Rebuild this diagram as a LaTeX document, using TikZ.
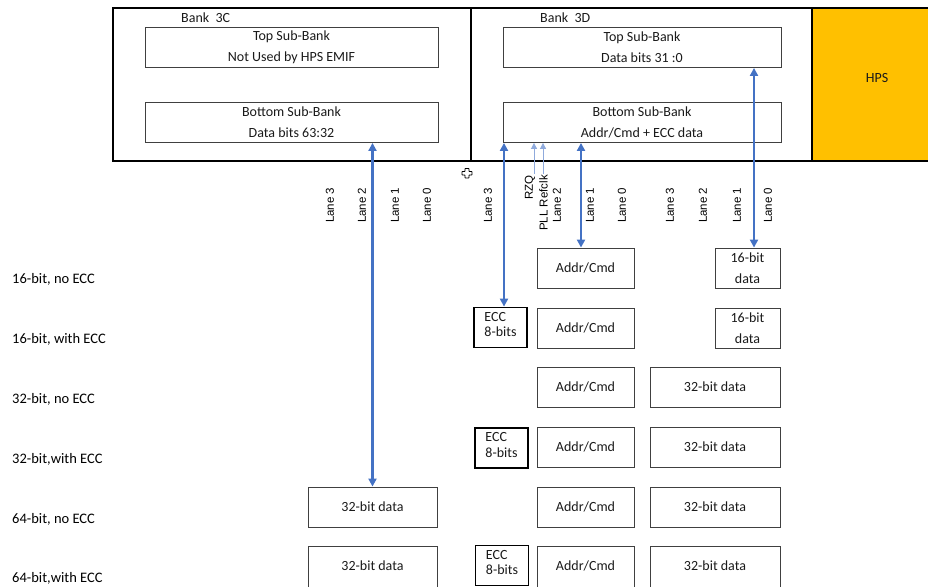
\documentclass[tikz,border=0pt]{standalone}
\usepackage{fontspec}
\setmainfont{Carlito}
\newfontfamily\lanefont{Liberation Sans}
\usetikzlibrary{arrows.meta}
\definecolor{linkblue}{HTML}{4472C4}
\definecolor{thinblue}{HTML}{8FAADC}
\definecolor{hpsgold}{HTML}{FFC000}
\definecolor{boxline}{HTML}{404040}
\definecolor{txt}{HTML}{1A1A1A}
\tikzset{
  bank/.style={draw=black, line width=1.6pt, inner sep=0pt},
  cell/.style={draw=boxline, line width=0.9pt, inner sep=0pt, align=center,
    text=txt, font=\fontsize{14}{21}\selectfont},
  eccbox/.style={draw=black, line width=1.8pt, inner sep=0pt,
    minimum width=53pt, minimum height=40pt},
  ecctext/.style={align=left, inner sep=0pt, text=txt,
    font=\fontsize{14}{15.5}\selectfont},
  celltext/.style={inner sep=0pt, text=txt, font=\fontsize{14}{16}\selectfont},
  addr/.style={cell, minimum width=97pt, minimum height=40pt},
  wide/.style={cell, minimum width=130pt, minimum height=40pt},
  narrow/.style={cell, minimum width=65pt, minimum height=40pt},
  rowlabel/.style={anchor=west, inner sep=0pt, text=black,
    font=\fontsize{14.5}{16}\selectfont},
  lane/.style={rotate=90, anchor=west, inner sep=0pt, text=black,
    font=\lanefont\fontsize{11.5}{13}\selectfont},
  pinlabel/.style={rotate=90, anchor=east, inner sep=0pt, text=black,
    font=\lanefont\fontsize{11.5}{13}\selectfont},
  banklabel/.style={anchor=west, inner sep=0pt, text=txt,
    font=\fontsize{14}{16}\selectfont},
  link/.style={draw=linkblue, line width=2.4pt,
    {Triangle[length=8pt,width=8pt]}-{Triangle[length=8pt,width=8pt]}},
  pin/.style={draw=thinblue, line width=1pt, -{Triangle[length=6pt,width=6pt]}},
}
\begin{document}
\begin{tikzpicture}[x=1pt, y=-1pt]
\useasboundingbox (0,0) rectangle (928,586);
\clip (0,0) rectangle (928,586);

% I/O banks and the HPS block
\node[bank, minimum width=358pt, minimum height=153pt] (bank3C) at (292,84.5) {};
\node[bank, minimum width=341pt, minimum height=153pt] (bank3D) at (641.5,84.5) {};
\fill[hpsgold] (812.8,8) rectangle (940,161);
\draw[black, line width=1.6pt] (812,8) -- (940,8) (812,161) -- (940,161);
\node[celltext] (hps) at (877,78) {HPS};

\node[banklabel] (lbl3C) at (181,18) {Bank~~3C};
\node[banklabel] (lbl3D) at (540,18) {Bank~~3D};

% sub-banks
\node[cell, minimum width=293pt, minimum height=40pt] (topC) at (291.5,47.5)
  {Top Sub-Bank\\Not Used by HPS EMIF};
\node[cell, minimum width=293pt, minimum height=40pt] (botC) at (291.5,122.5)
  {Bottom Sub-Bank\\Data bits 63:32};
\node[cell, minimum width=278pt, minimum height=40pt] (topD) at (642,47.5)
  {Top Sub-Bank\\Data bits 31 :0};
\node[cell, minimum width=278pt, minimum height=40pt] (botD) at (642,122.5)
  {Bottom Sub-Bank\\Addr/Cmd + ECC data};

% lane labels
\foreach \x/\t [count=\i] in {330/Lane 3, 362/Lane 2, 395/Lane 1, 427/Lane 0,
    488/Lane 3, 557/Lane 2, 590/Lane 1, 622/Lane 0,
    670/Lane 3, 703/Lane 2, 737/Lane 1, 768/Lane 0}
  \node[lane] (lane\i) at (\x,223) {\t};
\node[pinlabel] (rzq) at (530,175) {RZQ};
\node[pinlabel] (pll) at (543.5,175) {PLL Refclk};

% configuration rows
\node[rowlabel] (cfg1) at (12,279.5) {16-bit, no ECC};
\node[rowlabel] (cfg2) at (12,339.5) {16-bit, with ECC};
\node[rowlabel] (cfg3) at (12,399) {32-bit, no ECC};
\node[rowlabel] (cfg4) at (12,459) {32-bit,with ECC};
\node[rowlabel] (cfg5) at (12,519) {64-bit, no ECC};
\node[rowlabel] (cfg6) at (12,578.5) {64-bit,with ECC};

% row 1
\node[addr] (ac1) at (585.5,268) {Addr/Cmd};
\node[narrow] (d16a) at (747.5,268) {16-bit\\data};
% row 2
\node[eccbox] (ecc2) at (500.5,327.5) {};
\node[ecctext] (ecc2t) at ([yshift=3pt]ecc2.center) {ECC\\8-bits};
\node[addr] (ac2) at (585.5,328) {Addr/Cmd};
\node[narrow] (d16b) at (747.5,328) {16-bit\\data};
% row 3
\node[addr] (ac3) at (585.5,387) {Addr/Cmd};
\node[wide] (d32c) at (715,387) {32-bit data};
% row 4
\node[eccbox] (ecc4) at (501.5,448) {};
\node[ecctext] (ecc4t) at ([yshift=3pt]ecc4.center) {ECC\\8-bits};
\node[addr] (ac4) at (585.5,447) {Addr/Cmd};
\node[wide] (d32d) at (715,447) {32-bit data};
% row 5
\node[cell, minimum width=129pt, minimum height=40pt] (hi5) at (372.5,507) {32-bit data};
\node[addr] (ac5) at (585.5,507) {Addr/Cmd};
\node[wide] (d32e) at (715,507) {32-bit data};
% row 6 (runs past the lower edge)
\node[cell, minimum width=129pt, minimum height=44pt] (hi6) at (372.5,568) {};
\node[celltext] (hi6t) at (372.5,566) {32-bit data};
\node[eccbox] (ecc6) at (502,565.5) {};
\node[ecctext] (ecc6t) at ([yshift=3pt]ecc6.center) {ECC\\8-bits};
\node[cell, minimum width=97pt, minimum height=44pt] (ac6) at (585.5,568) {};
\node[celltext] (ac6t) at (585.5,566) {Addr/Cmd};
\node[cell, minimum width=130pt, minimum height=44pt] (d32f) at (715,568) {};
\node[celltext] (d32ft) at (715,566) {32-bit data};

% lane connections
\draw[link] (hi5.north) -- (hi5.north |- botC.south);
\draw[link] ([xshift=3.5pt]ecc2.north) -- ([xshift=3.5pt]ecc2.north |- botD.south);
\draw[link] ([xshift=-4.5pt]ac1.north) -- ([xshift=-4.5pt]ac1.north |- botD.south);
\draw[link] ([xshift=6.5pt]d16a.north) -- ([xshift=6.5pt]d16a.north |- topD.south);

% RZQ and PLL reference clock pins
\coordinate (rzqend) at (534,174);
\coordinate (pllend) at (543,174);
\draw[pin] (rzqend) -- (rzqend |- botD.south);
\draw[pin] (pllend) -- (pllend |- botD.south);

% pointer glyph
\draw[black, line width=0.8pt, fill=white, rounded corners=0.5pt]
  (465,168.5) -- (469,168.5) -- (469,171.5) -- (472,171.5) -- (472,175) --
  (469,175) -- (469,178) -- (465,178) -- (465,175) -- (462,175) --
  (462,171.5) -- (465,171.5) -- cycle;
\end{tikzpicture}
\end{document}
